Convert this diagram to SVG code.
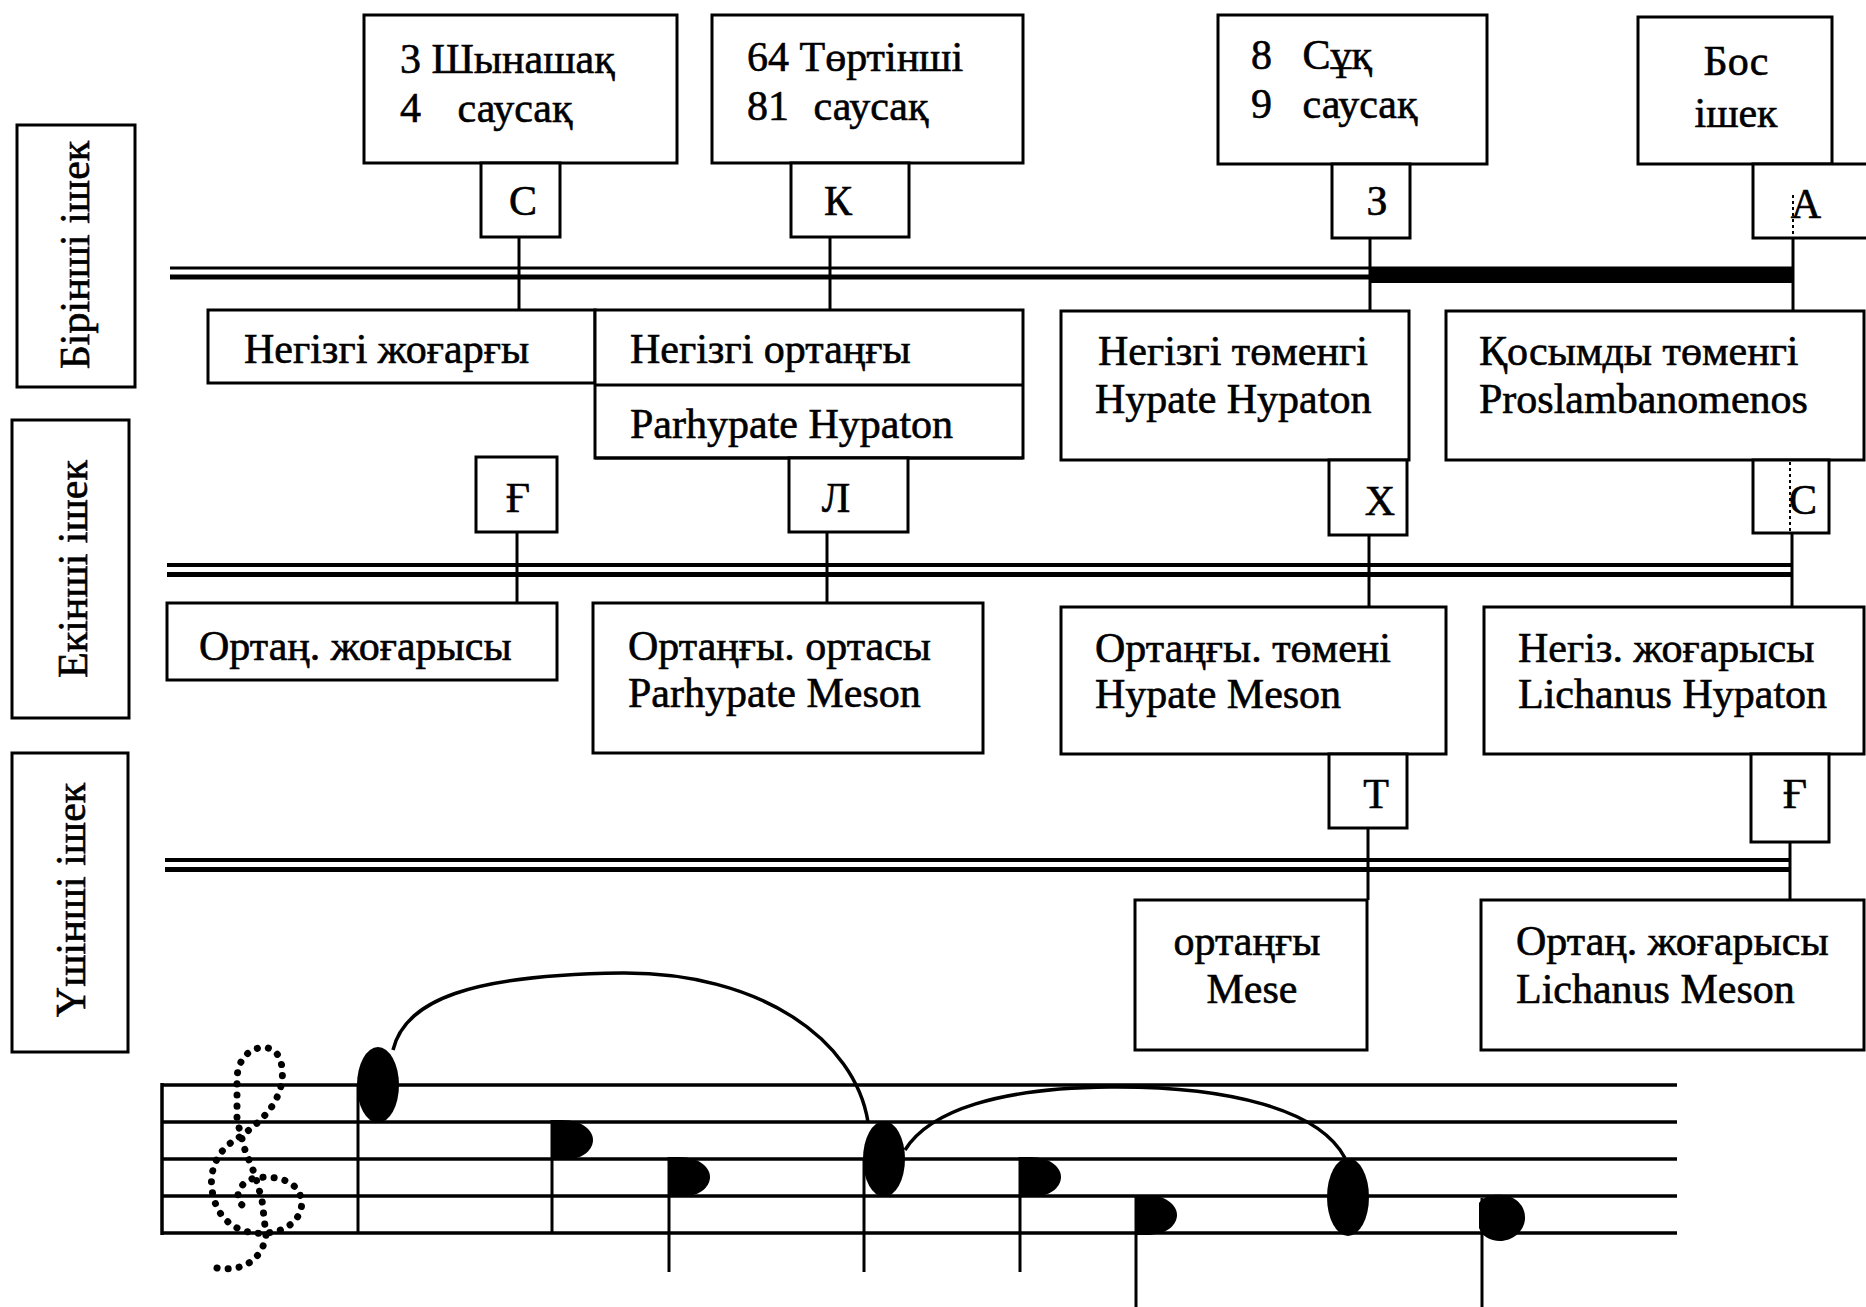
<svg xmlns="http://www.w3.org/2000/svg" width="1866" height="1307" viewBox="0 0 1866 1307">
<defs>
<style>
.b{fill:#fff;stroke:#000;stroke-width:3}
.t{font-family:"Liberation Serif","Times New Roman",serif;font-size:42px;fill:#000;stroke:#000;stroke-width:0.6}
.c{text-anchor:middle}
.ln{stroke:#000;stroke-width:3;fill:none}
.str{stroke:#000;fill:none}
.dot{stroke:#000;stroke-width:2;stroke-dasharray:3 3;fill:none}
.staff{stroke:#000;stroke-width:3.5}
.stem{stroke:#000;stroke-width:3}
</style>
</defs>
<rect width="1866" height="1307" fill="#fff"/>

<g id="strings">
<line class="str" x1="170" y1="268" x2="1793" y2="268" stroke-width="3"/>
<line class="str" x1="170" y1="277" x2="1793" y2="277" stroke-width="5"/>
<rect x="1370" y="267" width="423" height="16" fill="#000"/>
<line class="str" x1="167" y1="565" x2="1793" y2="565" stroke-width="4"/>
<line class="str" x1="167" y1="574.5" x2="1793" y2="574.5" stroke-width="5"/>
<line class="str" x1="165" y1="860" x2="1790" y2="860" stroke-width="4"/>
<line class="str" x1="165" y1="869.5" x2="1790" y2="869.5" stroke-width="5"/>
</g>

<g id="connectors">
<line class="ln" x1="519" y1="237" x2="519" y2="310"/>
<line class="ln" x1="830" y1="237" x2="830" y2="310"/>
<line class="ln" x1="1370" y1="238" x2="1370" y2="311"/>
<line class="ln" x1="1793" y1="238" x2="1793" y2="310"/>
<line class="ln" x1="517" y1="532" x2="517" y2="603"/>
<line class="ln" x1="827" y1="532" x2="827" y2="603"/>
<line class="ln" x1="1369" y1="535" x2="1369" y2="607"/>
<line class="ln" x1="1792" y1="533" x2="1792" y2="607"/>
<line class="ln" x1="1368" y1="828" x2="1368" y2="900"/>
<line class="ln" x1="1790" y1="842" x2="1790" y2="900"/>
</g>

<g id="label1"><rect class="b" x="17" y="125" width="118" height="262"/><text class="t c" transform="translate(89,255) rotate(-90)">Бірінші ішек</text></g>
<g id="label2"><rect class="b" x="12" y="420" width="117" height="298"/><text class="t c" transform="translate(87,569) rotate(-90)">Екінші ішек</text></g>
<g id="label3"><rect class="b" x="12" y="753" width="116" height="299"/><text class="t c" transform="translate(85,900) rotate(-90)">Үшінші ішек</text></g>

<g id="n-shynashaq"><rect class="b" x="364" y="15" width="313" height="148"/>
<text class="t" x="400" y="73">3 Шынашақ</text><text class="t" x="400" y="122" word-spacing="26">4 саусақ</text></g>
<g id="n-tortinshi"><rect class="b" x="712" y="15" width="311" height="148"/>
<text class="t" x="747" y="71">64 Төртінші</text><text class="t" x="747" y="120" word-spacing="14">81 саусақ</text></g>
<g id="n-suq"><rect class="b" x="1218" y="15" width="269" height="149"/>
<text class="t" x="1251" y="69" word-spacing="20">8 Сұқ</text><text class="t" x="1251" y="118" word-spacing="20">9 саусақ</text></g>
<g id="n-bos"><rect class="b" x="1638" y="17" width="194" height="147"/>
<text class="t c" x="1736" y="75">Бос</text><text class="t c" x="1736" y="127">ішек</text></g>

<g id="k-s1"><rect class="b" x="481" y="163" width="79" height="74"/><text class="t c" x="523" y="215">С</text></g>
<g id="k-k"><rect class="b" x="791" y="163" width="118" height="74"/><text class="t c" x="838" y="215">К</text></g>
<g id="k-z"><rect class="b" x="1332" y="164" width="78" height="74"/><text class="t c" x="1377" y="215">З</text></g>
<g id="k-a"><rect class="b" x="1753" y="164" width="117" height="74"/><text class="t c" x="1806" y="218">А</text><line class="dot" x1="1793" y1="195" x2="1793" y2="238"/></g>

<g id="n-negizgi-zhogargy"><rect class="b" x="208" y="310" width="387" height="73"/><text class="t" x="244" y="363">Негізгі жоғарғы</text></g>
<g id="n-negizgi-ortangy"><rect class="b" x="595" y="310" width="428" height="148"/><line class="ln" x1="595" y1="385" x2="1023" y2="385"/>
<text class="t" x="630" y="363">Негізгі ортаңғы</text><text class="t" x="630" y="438">Parhypate Hypaton</text><line class="ln" x1="595" y1="458" x2="1023" y2="458"/></g>
<g id="n-negizgi-tomengi"><rect class="b" x="1061" y="311" width="348" height="149"/>
<text class="t" x="1098" y="365">Негізгі төменгі</text><text class="t" x="1095" y="413">Hypate Hypaton</text></g>
<g id="n-qosymdy"><rect class="b" x="1446" y="311" width="418" height="149"/>
<text class="t" x="1479" y="365">Қосымды төменгі</text><text class="t" x="1479" y="413">Proslambanomenos</text></g>

<g id="k-gh1"><rect class="b" x="476" y="457" width="81" height="75"/><text class="t c" x="518" y="512">Ғ</text></g>
<g id="k-l"><rect class="b" x="789" y="458" width="119" height="74"/><text class="t c" x="836" y="512">Л</text></g>
<g id="k-kh"><rect class="b" x="1329" y="460" width="78" height="75"/><text class="t c" x="1380" y="515">Х</text></g>
<g id="k-s2"><rect class="b" x="1753" y="460" width="76" height="73"/><text class="t c" x="1803" y="514">С</text><line class="dot" x1="1790" y1="462" x2="1790" y2="533"/></g>

<g id="n-ortan-zhogarysy"><rect class="b" x="167" y="603" width="390" height="77"/><text class="t" x="199" y="660">Ортаң. жоғарысы</text></g>
<g id="n-ortangy-ortasy"><rect class="b" x="593" y="603" width="390" height="150"/>
<text class="t" x="628" y="660">Ортаңғы. ортасы</text><text class="t" x="628" y="707">Parhypate Meson</text></g>
<g id="n-ortangy-tomeni"><rect class="b" x="1061" y="607" width="385" height="147"/>
<text class="t" x="1095" y="662">Ортаңғы. төмені</text><text class="t" x="1095" y="708">Hypate Meson</text></g>
<g id="n-negiz-zhogarysy"><rect class="b" x="1484" y="607" width="380" height="147"/>
<text class="t" x="1518" y="662">Негіз. жоғарысы</text><text class="t" x="1518" y="708">Lichanus Hypaton</text></g>

<g id="k-t"><rect class="b" x="1329" y="754" width="78" height="74"/><text class="t c" x="1376" y="808">Т</text></g>
<g id="k-gh2"><rect class="b" x="1751" y="754" width="78" height="88"/><text class="t c" x="1795" y="808">Ғ</text></g>

<g id="n-mese"><rect class="b" x="1135" y="900" width="232" height="150"/>
<text class="t c" x="1247" y="955">ортаңғы</text><text class="t c" x="1252" y="1003">Mese</text></g>
<g id="n-lichanus-meson"><rect class="b" x="1481" y="900" width="383" height="150"/>
<text class="t" x="1516" y="955">Ортаң. жоғарысы</text><text class="t" x="1516" y="1003">Lichanus Meson</text></g>

<g id="staff">
<line class="staff" x1="162" y1="1085" x2="1677" y2="1085"/>
<line class="staff" x1="162" y1="1122" x2="1677" y2="1122"/>
<line class="staff" x1="162" y1="1159" x2="1677" y2="1159"/>
<line class="staff" x1="162" y1="1196" x2="1677" y2="1196"/>
<line class="staff" x1="162" y1="1233" x2="1677" y2="1233"/>
<line class="staff" x1="162" y1="1083" x2="162" y2="1235" stroke-width="4"/>
<path d="M217,1268 C240,1272 262,1262 266,1235 L262,1200 L255,1175 L245,1150 L237,1120 L237,1080 C237,1055 255,1045 268,1048 C285,1052 285,1080 278,1095 C270,1115 250,1130 235,1140 C215,1152 208,1175 213,1195 C218,1220 238,1235 265,1233 C290,1232 305,1215 301,1198 C297,1180 275,1175 255,1178 C238,1182 232,1200 245,1207" fill="none" stroke="#000" stroke-width="7" stroke-dasharray="0.1 11" stroke-linecap="round"/>
<ellipse cx="378" cy="1085" rx="21" ry="38"/>
<line class="stem" x1="358" y1="1085" x2="358" y2="1233"/>
<path d="M551,1120 L562,1120 C584,1120 594,1132 593,1141 C592,1151 582,1160 562,1160 L551,1160 Z"/>
<line class="stem" x1="552" y1="1120" x2="552" y2="1233"/>
<path d="M668,1157 L679,1157 C701,1157 711,1169 710,1178 C709,1188 699,1197 679,1197 L668,1197 Z"/>
<line class="stem" x1="669" y1="1157" x2="669" y2="1272"/>
<ellipse cx="884" cy="1159" rx="21" ry="38"/>
<line class="stem" x1="864" y1="1159" x2="864" y2="1272"/>
<path d="M1019,1157 L1030,1157 C1052,1157 1062,1169 1061,1178 C1060,1188 1050,1197 1030,1197 L1019,1197 Z"/>
<line class="stem" x1="1020" y1="1157" x2="1020" y2="1272"/>
<path d="M1135,1195 L1146,1195 C1168,1195 1178,1207 1177,1216 C1176,1226 1166,1235 1146,1235 L1135,1235 Z"/>
<line class="stem" x1="1136" y1="1195" x2="1136" y2="1307"/>
<ellipse cx="1348" cy="1197" rx="21" ry="39"/>
<path d="M1479,1203 C1485,1195 1495,1194 1503,1195 C1518,1197 1526,1208 1525,1219 C1524,1232 1512,1241 1500,1241 C1490,1241 1482,1236 1479,1228 Z"/>
<line class="stem" x1="1482" y1="1198" x2="1482" y2="1307"/>
<path d="M393,1050 C405,1000 470,975 622,973 C760,972 855,1040 868,1122" fill="none" stroke="#000" stroke-width="3.5"/>
<path d="M905,1150 C930,1110 1000,1088 1110,1087 C1230,1086 1320,1110 1345,1158" fill="none" stroke="#000" stroke-width="3.5"/>
</g>
</svg>
